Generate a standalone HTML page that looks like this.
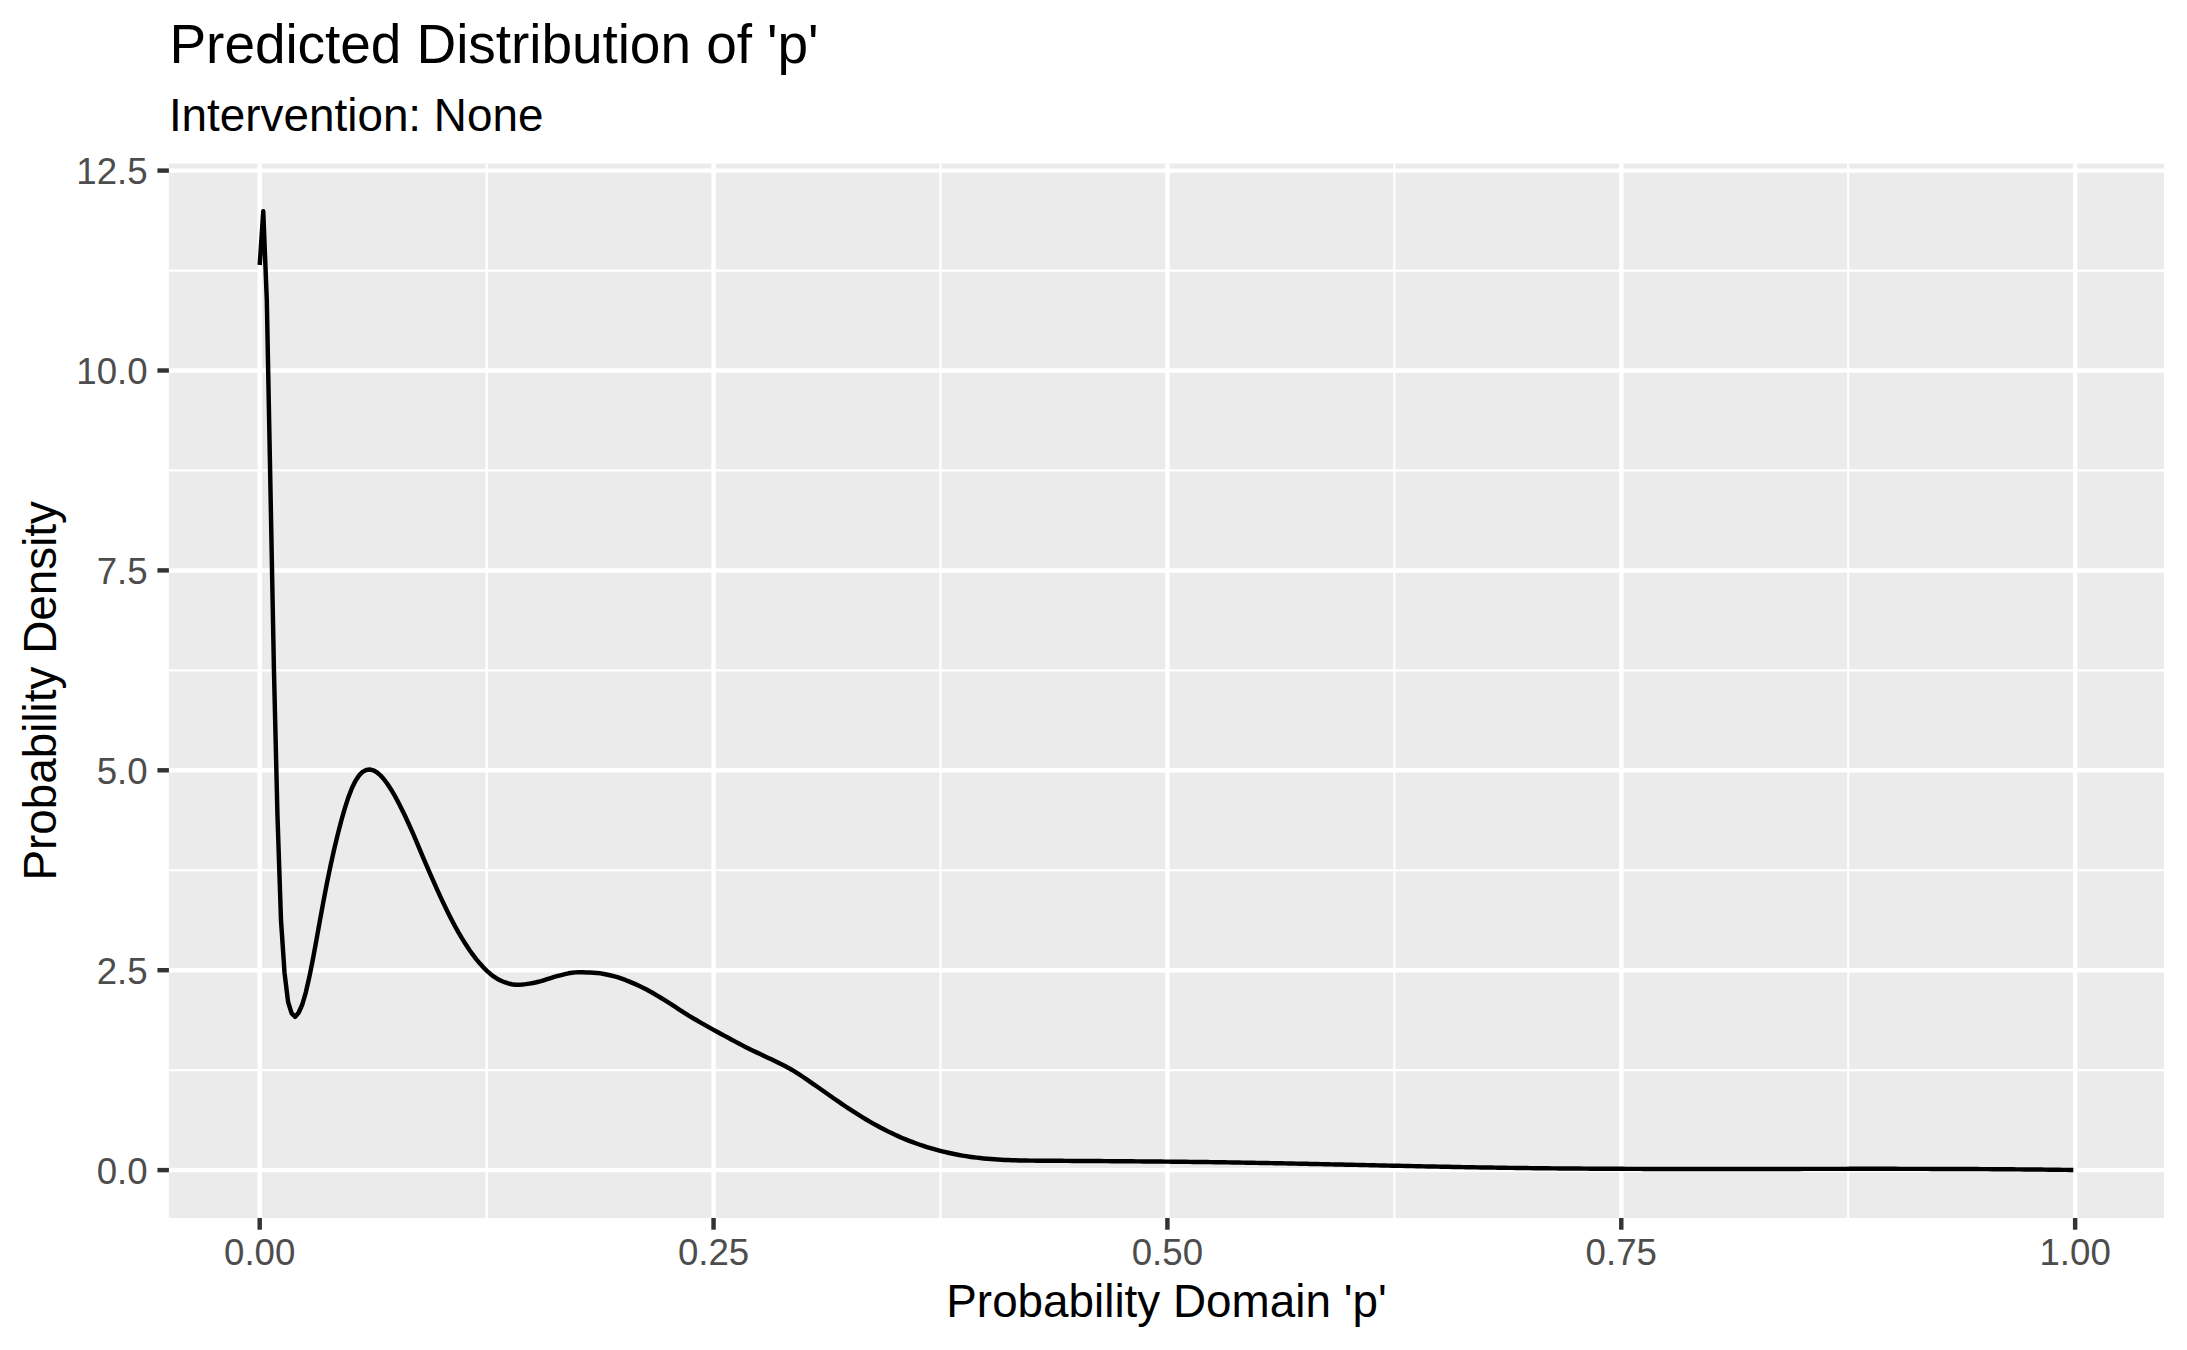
<!DOCTYPE html>
<html lang="en"><head><meta charset="utf-8"><title>Predicted Distribution of 'p'</title>
<style>
html,body{margin:0;padding:0;background:#fff;}
body{width:2187px;height:1350px;overflow:hidden;}
svg{display:block;}
text{font-family:"Liberation Sans",Arial,Helvetica,sans-serif;}
.at{font-size:36.67px;fill:#4d4d4d;}
.ti{font-size:45.83px;fill:#000;}
</style></head><body>
<svg width="2187" height="1350" viewBox="0 0 2187 1350">
<rect width="2187" height="1350" fill="#fff"/>
<rect x="168.9" y="163.6" width="1995.15" height="1054.35" fill="#ebebeb"/>
<g stroke="#fff" stroke-width="2.225" fill="none">
<path d="M168.9 1070.15H2164.05"/>
<path d="M168.9 870.25H2164.05"/>
<path d="M168.9 670.35H2164.05"/>
<path d="M168.9 470.45H2164.05"/>
<path d="M168.9 270.55H2164.05"/>
<path d="M486.63 163.6V1217.95"/>
<path d="M940.49 163.6V1217.95"/>
<path d="M1394.36 163.6V1217.95"/>
<path d="M1848.22 163.6V1217.95"/>
</g><g stroke="#fff" stroke-width="4.45" fill="none">
<path d="M168.9 1170.10H2164.05"/>
<path d="M168.9 970.20H2164.05"/>
<path d="M168.9 770.30H2164.05"/>
<path d="M168.9 570.40H2164.05"/>
<path d="M168.9 370.50H2164.05"/>
<path d="M168.9 170.60H2164.05"/>
<path d="M259.70 163.6V1217.95"/>
<path d="M713.56 163.6V1217.95"/>
<path d="M1167.42 163.6V1217.95"/>
<path d="M1621.29 163.6V1217.95"/>
<path d="M2075.15 163.6V1217.95"/>
</g>
<polyline fill="none" stroke="#000" stroke-width="4.45" stroke-linejoin="round" stroke-linecap="butt" points="259.70,265.00 263.25,211.30 266.80,300.00 270.35,483.00 273.90,668.00 277.45,815.00 280.99,920.00 284.54,973.00 288.09,1002.00 291.64,1013.30 295.19,1016.80 298.74,1012.50 302.29,1004.50 305.84,992.34 309.39,976.87 312.94,959.01 316.49,939.71 320.04,919.95 323.58,900.58 327.13,882.17 330.68,864.99 334.23,849.03 337.78,834.20 341.33,820.50 344.88,808.07 348.43,797.15 351.98,788.00 355.53,780.75 359.08,775.41 362.62,771.86 366.17,769.93 369.72,769.47 373.27,770.31 376.82,772.31 380.37,775.34 383.92,779.27 387.47,784.00 391.02,789.42 394.57,795.43 398.12,801.96 401.66,808.93 405.21,816.29 408.76,823.98 412.31,831.96 415.86,840.20 419.41,848.68 422.96,857.02 426.51,865.32 430.06,873.53 433.61,881.63 437.16,889.58 440.71,897.36 444.25,904.92 447.80,912.24 451.35,919.27 454.90,925.99 458.45,932.37 462.00,938.41 465.55,944.10 469.10,949.45 472.65,954.45 476.20,959.09 479.75,963.37 483.29,967.27 486.84,970.81 490.39,973.96 493.94,976.66 497.49,978.95 501.04,980.79 504.59,982.22 508.14,983.40 511.69,984.27 515.24,984.73 518.79,984.81 522.33,984.58 525.88,984.14 529.43,983.60 532.98,982.98 536.53,982.25 540.08,981.35 543.63,980.27 547.18,979.14 550.73,978.04 554.28,976.98 557.83,975.98 561.38,975.04 564.92,974.13 568.47,973.31 572.02,972.76 575.57,972.39 579.12,972.23 582.67,972.34 586.22,972.44 589.77,972.55 593.32,972.75 596.87,972.93 600.42,973.33 603.96,973.96 607.51,974.70 611.06,975.51 614.61,976.43 618.16,977.46 621.71,978.65 625.26,979.96 628.81,981.37 632.36,982.85 635.91,984.40 639.46,986.02 643.00,987.71 646.55,989.50 650.10,991.44 653.65,993.48 657.20,995.60 660.75,997.74 664.30,999.94 667.85,1002.19 671.40,1004.46 674.95,1006.74 678.50,1009.02 682.05,1011.34 685.59,1013.65 689.14,1015.88 692.69,1017.98 696.24,1020.04 699.79,1022.06 703.34,1024.08 706.89,1026.09 710.44,1028.09 713.99,1030.07 717.54,1032.04 721.09,1033.95 724.63,1035.84 728.18,1037.76 731.73,1039.70 735.28,1041.60 738.83,1043.50 742.38,1045.40 745.93,1047.27 749.48,1048.99 753.03,1050.69 756.58,1052.38 760.13,1054.05 763.67,1055.72 767.22,1057.39 770.77,1059.06 774.32,1060.75 777.87,1062.46 781.42,1064.21 784.97,1066.03 788.52,1067.94 792.07,1069.97 795.62,1072.13 799.17,1074.41 802.72,1076.77 806.26,1079.17 809.81,1081.60 813.36,1084.06 816.91,1086.54 820.46,1089.03 824.01,1091.52 827.56,1094.01 831.11,1096.49 834.66,1098.96 838.21,1101.42 841.76,1103.84 845.30,1106.23 848.85,1108.59 852.40,1110.90 855.95,1113.18 859.50,1115.41 863.05,1117.59 866.60,1119.72 870.15,1121.80 873.70,1123.83 877.25,1125.81 880.80,1127.73 884.35,1129.58 887.89,1131.38 891.44,1133.11 894.99,1134.78 898.54,1136.39 902.09,1137.93 905.64,1139.41 909.19,1140.84 912.74,1142.20 916.29,1143.50 919.84,1144.75 923.39,1145.94 926.93,1147.07 930.48,1148.15 934.03,1149.18 937.58,1150.15 941.13,1151.07 944.68,1151.95 948.23,1152.77 951.78,1153.54 955.33,1154.26 958.88,1154.94 962.43,1155.57 965.97,1156.15 969.52,1156.69 973.07,1157.19 976.62,1157.64 980.17,1158.05 983.72,1158.43 987.27,1158.76 990.82,1159.06 994.37,1159.32 997.92,1159.56 1001.47,1159.76 1005.02,1159.94 1008.56,1160.09 1012.11,1160.23 1015.66,1160.34 1019.21,1160.43 1022.76,1160.50 1026.31,1160.56 1029.86,1160.61 1033.41,1160.65 1036.96,1160.68 1040.51,1160.71 1044.06,1160.73 1047.60,1160.76 1051.15,1160.78 1054.70,1160.80 1058.25,1160.82 1061.80,1160.84 1065.35,1160.86 1068.90,1160.89 1072.45,1160.91 1076.00,1160.93 1079.55,1160.95 1083.10,1160.97 1086.64,1161.00 1090.19,1161.02 1093.74,1161.04 1097.29,1161.07 1100.84,1161.09 1104.39,1161.11 1107.94,1161.14 1111.49,1161.16 1115.04,1161.19 1118.59,1161.21 1122.14,1161.24 1125.69,1161.27 1129.23,1161.29 1132.78,1161.32 1136.33,1161.35 1139.88,1161.38 1143.43,1161.41 1146.98,1161.44 1150.53,1161.47 1154.08,1161.50 1157.63,1161.53 1161.18,1161.57 1164.73,1161.60 1168.27,1161.63 1171.82,1161.67 1175.37,1161.71 1178.92,1161.75 1182.47,1161.78 1186.02,1161.82 1189.57,1161.86 1193.12,1161.91 1196.67,1161.95 1200.22,1161.99 1203.77,1162.04 1207.31,1162.08 1210.86,1162.13 1214.41,1162.18 1217.96,1162.23 1221.51,1162.28 1225.06,1162.34 1228.61,1162.39 1232.16,1162.44 1235.71,1162.50 1239.26,1162.56 1242.81,1162.62 1246.36,1162.68 1249.90,1162.74 1253.45,1162.80 1257.00,1162.86 1260.55,1162.93 1264.10,1162.99 1267.65,1163.06 1271.20,1163.12 1274.75,1163.19 1278.30,1163.26 1281.85,1163.33 1285.40,1163.40 1288.94,1163.47 1292.49,1163.54 1296.04,1163.61 1299.59,1163.68 1303.14,1163.76 1306.69,1163.83 1310.24,1163.91 1313.79,1163.98 1317.34,1164.05 1320.89,1164.13 1324.44,1164.21 1327.98,1164.28 1331.53,1164.36 1335.08,1164.44 1338.63,1164.51 1342.18,1164.59 1345.73,1164.67 1349.28,1164.74 1352.83,1164.82 1356.38,1164.90 1359.93,1164.98 1363.48,1165.05 1367.03,1165.13 1370.57,1165.21 1374.12,1165.29 1377.67,1165.37 1381.22,1165.44 1384.77,1165.52 1388.32,1165.60 1391.87,1165.67 1395.42,1165.75 1398.97,1165.83 1402.52,1165.90 1406.07,1165.98 1409.61,1166.05 1413.16,1166.13 1416.71,1166.20 1420.26,1166.27 1423.81,1166.35 1427.36,1166.42 1430.91,1166.49 1434.46,1166.56 1438.01,1166.63 1441.56,1166.70 1445.11,1166.77 1448.65,1166.84 1452.20,1166.91 1455.75,1166.98 1459.30,1167.04 1462.85,1167.11 1466.40,1167.17 1469.95,1167.23 1473.50,1167.30 1477.05,1167.36 1480.60,1167.42 1484.15,1167.47 1487.70,1167.53 1491.24,1167.59 1494.79,1167.64 1498.34,1167.70 1501.89,1167.75 1505.44,1167.80 1508.99,1167.85 1512.54,1167.90 1516.09,1167.95 1519.64,1168.00 1523.19,1168.04 1526.74,1168.08 1530.28,1168.13 1533.83,1168.17 1537.38,1168.21 1540.93,1168.25 1544.48,1168.28 1548.03,1168.32 1551.58,1168.35 1555.13,1168.39 1558.68,1168.42 1562.23,1168.45 1565.78,1168.48 1569.33,1168.51 1572.87,1168.54 1576.42,1168.57 1579.97,1168.59 1583.52,1168.62 1587.07,1168.64 1590.62,1168.67 1594.17,1168.69 1597.72,1168.71 1601.27,1168.73 1604.82,1168.75 1608.37,1168.77 1611.91,1168.78 1615.46,1168.80 1619.01,1168.82 1622.56,1168.83 1626.11,1168.85 1629.66,1168.86 1633.21,1168.87 1636.76,1168.88 1640.31,1168.89 1643.86,1168.90 1647.41,1168.91 1650.95,1168.92 1654.50,1168.93 1658.05,1168.94 1661.60,1168.95 1665.15,1168.95 1668.70,1168.96 1672.25,1168.96 1675.80,1168.97 1679.35,1168.97 1682.90,1168.97 1686.45,1168.98 1690.00,1168.98 1693.54,1168.98 1697.09,1168.98 1700.64,1168.98 1704.19,1168.99 1707.74,1168.99 1711.29,1168.98 1714.84,1168.98 1718.39,1168.98 1721.94,1168.98 1725.49,1168.98 1729.04,1168.98 1732.58,1168.98 1736.13,1168.97 1739.68,1168.97 1743.23,1168.97 1746.78,1168.96 1750.33,1168.96 1753.88,1168.96 1757.43,1168.95 1760.98,1168.95 1764.53,1168.94 1768.08,1168.94 1771.62,1168.94 1775.17,1168.93 1778.72,1168.93 1782.27,1168.92 1785.82,1168.92 1789.37,1168.91 1792.92,1168.91 1796.47,1168.90 1800.02,1168.90 1803.57,1168.89 1807.12,1168.89 1810.67,1168.88 1814.21,1168.88 1817.76,1168.88 1821.31,1168.87 1824.86,1168.87 1828.41,1168.86 1831.96,1168.86 1835.51,1168.86 1839.06,1168.85 1842.61,1168.85 1846.16,1168.85 1849.71,1168.84 1853.25,1168.84 1856.80,1168.84 1860.35,1168.84 1863.90,1168.84 1867.45,1168.84 1871.00,1168.84 1874.55,1168.84 1878.10,1168.84 1881.65,1168.84 1885.20,1168.84 1888.75,1168.84 1892.29,1168.84 1895.84,1168.84 1899.39,1168.85 1902.94,1168.85 1906.49,1168.86 1910.04,1168.86 1913.59,1168.87 1917.14,1168.87 1920.69,1168.88 1924.24,1168.89 1927.79,1168.89 1931.34,1168.90 1934.88,1168.91 1938.43,1168.92 1941.98,1168.93 1945.53,1168.94 1949.08,1168.96 1952.63,1168.97 1956.18,1168.98 1959.73,1169.00 1963.28,1169.01 1966.83,1169.03 1970.38,1169.05 1973.92,1169.06 1977.47,1169.08 1981.02,1169.10 1984.57,1169.12 1988.12,1169.14 1991.67,1169.17 1995.22,1169.19 1998.77,1169.21 2002.32,1169.24 2005.87,1169.27 2009.42,1169.29 2012.96,1169.32 2016.51,1169.35 2020.06,1169.38 2023.61,1169.42 2027.16,1169.45 2030.71,1169.48 2034.26,1169.52 2037.81,1169.56 2041.36,1169.59 2044.91,1169.63 2048.46,1169.67 2052.01,1169.71 2055.55,1169.76 2059.10,1169.80 2062.65,1169.85 2066.20,1169.89 2069.75,1169.94 2073.30,1169.99"/>
<g stroke="#333" stroke-width="4.45" fill="none">
<path d="M157.44 1170.10H168.9"/>
<path d="M157.44 970.20H168.9"/>
<path d="M157.44 770.30H168.9"/>
<path d="M157.44 570.40H168.9"/>
<path d="M157.44 370.50H168.9"/>
<path d="M157.44 170.60H168.9"/>
<path d="M259.70 1217.95V1229.71"/>
<path d="M713.56 1217.95V1229.71"/>
<path d="M1167.42 1217.95V1229.71"/>
<path d="M1621.29 1217.95V1229.71"/>
<path d="M2075.15 1217.95V1229.71"/>
</g>
<text class="at" x="147.7" y="1183.60" text-anchor="end">0.0</text>
<text class="at" x="147.7" y="983.70" text-anchor="end">2.5</text>
<text class="at" x="147.7" y="783.80" text-anchor="end">5.0</text>
<text class="at" x="147.7" y="583.90" text-anchor="end">7.5</text>
<text class="at" x="147.7" y="384.00" text-anchor="end">10.0</text>
<text class="at" x="147.7" y="184.10" text-anchor="end">12.5</text>
<text class="at" x="259.70" y="1264.9" text-anchor="middle">0.00</text>
<text class="at" x="713.56" y="1264.9" text-anchor="middle">0.25</text>
<text class="at" x="1167.42" y="1264.9" text-anchor="middle">0.50</text>
<text class="at" x="1621.29" y="1264.9" text-anchor="middle">0.75</text>
<text class="at" x="2075.15" y="1264.9" text-anchor="middle">1.00</text>
<text class="ti" x="1166.48" y="1316.9" text-anchor="middle">Probability Domain 'p'</text>
<text class="ti" transform="translate(56.0,690.77) rotate(-90)" text-anchor="middle">Probability Density</text>
<text x="169.5" y="62.5" style="font-size:55px;fill:#000;letter-spacing:-0.06px">Predicted Distribution of 'p'</text>
<text class="ti" x="168.9" y="131.0">Intervention: None</text>
</svg></body></html>
